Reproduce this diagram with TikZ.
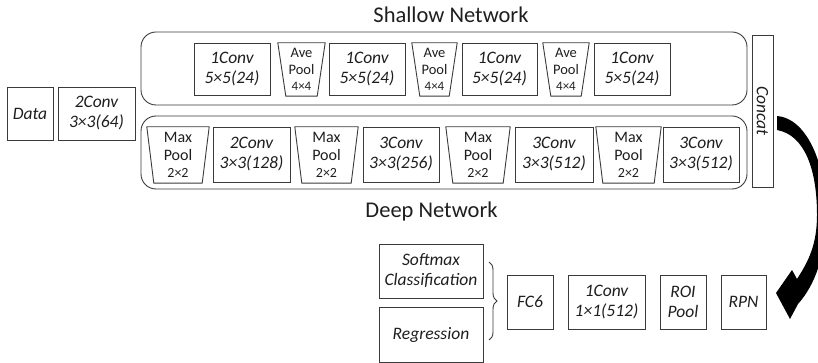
\documentclass[tikz,border=0pt]{standalone}
\usepackage{fontspec}
\setmainfont{Carlito}
\usetikzlibrary{decorations.pathreplacing}
\definecolor{edge}{HTML}{3A3A3A}
\definecolor{ink}{HTML}{1E1E1E}
\begin{document}
\begin{tikzpicture}[x=1pt,y=-1pt,
  box/.style={draw=edge,line width=0.9pt,inner sep=0pt,align=center,text=ink,
     font=\fontsize{17.5}{20}\selectfont\itshape},
  cont/.style={draw=edge,line width=0.9pt,rounded corners=15pt},
  avetxt/.style={inner sep=0pt,align=center,text=ink,font=\fontsize{14.5}{16.5}\selectfont},
  maxtxt/.style={inner sep=0pt,align=center,text=ink,font=\fontsize{16}{17.5}\selectfont},
  trap/.style={draw=edge,line width=0.9pt},
  title/.style={text=ink,font=\fontsize{22.5}{26}\selectfont}
]
\useasboundingbox (0,0) rectangle (818,363);
\clip (0,0) rectangle (818,363);

% titles
\node[title] (tshallow) at (451,15) {Shallow Network};
\node[title] (tdeep) at (431.5,212) {Deep Network};

% containers
\draw[cont] (141,32) rectangle (747,105);
\draw[cont] (141,116) rectangle (747,189);

% input
\node[box,minimum width=46pt,minimum height=53pt] (data) at (30,113.5) {Data};
\node[box,minimum width=77pt,minimum height=53pt] (c2a) at (96.5,113.5) {2Conv\\3×3(64)};

% shallow row
\node[box,minimum width=76pt,minimum height=52pt] (s1) at (232,69) {1Conv\\5×5(24)};
\node[box,minimum width=76pt,minimum height=52pt] (s2) at (367,69) {1Conv\\5×5(24)};
\node[box,minimum width=75pt,minimum height=52pt] (s3) at (499.5,69) {1Conv\\5×5(24)};
\node[box,minimum width=76pt,minimum height=52pt] (s4) at (632,69) {1Conv\\5×5(24)};

\foreach \n/\cx/\w in {ap1/301.5/47, ap2/434.5/45, ap3/566/46}{
  \node[avetxt,minimum width=\w pt,minimum height=53pt] (\n) at (\cx,69.5)
    {Ave\\Pool\\{\fontsize{13}{16.5}\selectfont 4×4}};
  \draw[trap] (\n.north west) -- (\n.north east) -- ([xshift=-8pt]\n.south east) -- ([xshift=8pt]\n.south west) -- cycle;
}

% deep row
\node[box,minimum width=77pt,minimum height=55pt] (d1) at (251.5,154.5) {2Conv\\3×3(128)};
\node[box,minimum width=76pt,minimum height=55pt] (d2) at (401,154.5) {3Conv\\3×3(256)};
\node[box,minimum width=78pt,minimum height=55pt] (d3) at (554,154.5) {3Conv\\3×3(512)};
\node[box,minimum width=76pt,minimum height=55pt] (d4) at (701,154.5) {3Conv\\3×3(512)};

\foreach \n/\cx/\w in {mp1/178/62, mp2/326.5/63, mp3/478/64, mp4/628.5/65}{
  \node[maxtxt,minimum width=\w pt,minimum height=56pt] (\n) at (\cx,155)
    {Max\\Pool\\{\fontsize{14}{17.5}\selectfont 2×2}};
  \draw[trap] (\n.north west) -- (\n.north east) -- ([xshift=-7pt]\n.south east) -- ([xshift=7pt]\n.south west) -- cycle;
}

% concat
\node[box,minimum width=21pt,minimum height=152pt] (concat) at (762.5,111) {};
\node[text=ink,font=\fontsize{17.5}{20}\selectfont\itshape,rotate=-90] (concatlbl) at (concat.center) {Concat};

% bottom row
\node[box,minimum width=104pt,minimum height=54pt] (soft) at (431,271) {Softmax\\Classification};
\node[box,minimum width=104pt,minimum height=55pt] (reg) at (431,334.5) {Regression};
\node[box,minimum width=46pt,minimum height=54pt] (fc6) at (530,302) {FC6};
\node[box,minimum width=77pt,minimum height=54pt] (c11) at (606.5,302) {1Conv\\1×1(512)};
\node[box,minimum width=46pt,minimum height=54pt] (roi) at (683,302) {ROI\\Pool};
\node[box,minimum width=45pt,minimum height=54pt] (rpn) at (743.5,302) {RPN};

% brace
\coordinate (bt) at (489,262);
\coordinate (bb) at (489,340);
\draw[edge,line width=0.9pt,decorate,decoration={brace,amplitude=8pt}] (bt) -- (bb);

% curved arrow from Concat to RPN
\fill[black] (777,116) .. controls (805,118) and (826,160) .. (826,215)
  .. controls (826,255) and (815,285) .. (798,304)
  -- (790,319) -- (776,293) -- (792,270) -- (797,279)
  .. controls (808,262) and (817,245) .. (817,215)
  .. controls (817,170) and (805,135) .. (777,130) -- cycle;
\end{tikzpicture}
\end{document}
